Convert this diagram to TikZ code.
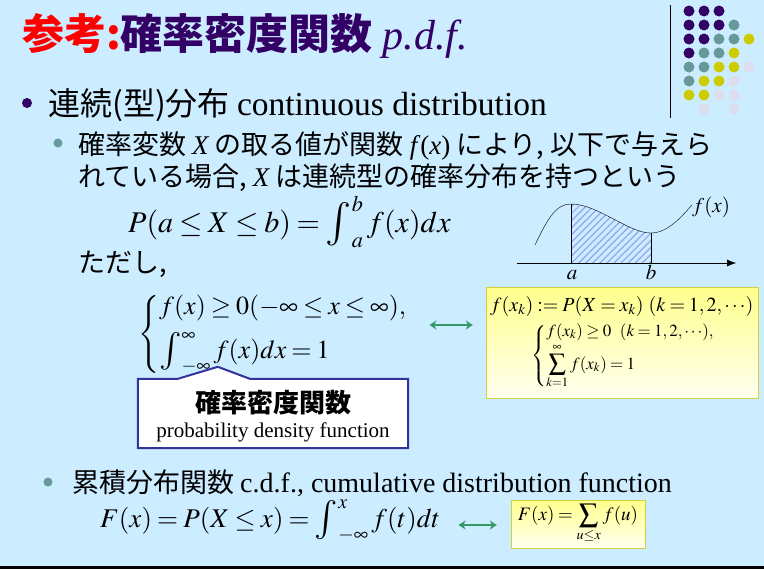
\documentclass[tikz,border=0pt]{standalone}
\usepackage{mathptmx}
\usepackage{fontspec}
\setmainfont{Liberation Serif}
\newfontfamily\jp{Noto Sans CJK JP}
\usetikzlibrary{positioning, arrows.meta, patterns.meta}
\definecolor{slidebg}{RGB}{204,236,255}
\definecolor{deeppurple}{RGB}{51,0,102}
\definecolor{dotteal}{RGB}{102,153,153}
\definecolor{dotyellow}{RGB}{204,204,0}
\definecolor{dotlilac}{RGB}{221,221,238}
\definecolor{arrowgreen}{RGB}{51,153,102}
\definecolor{hatchblue}{RGB}{145,165,240}
\definecolor{calloutblue}{RGB}{51,51,153}
\definecolor{boxedge}{RGB}{210,210,60}
\newcommand{\fsz}[1]{\fontsize{#1}{#1}\selectfont}
\newcommand{\mint}{\mathop{\vcenter{\hbox{\scalebox{1.45}{$\int$}}}}\nolimits}
\thickmuskip=3.5mu plus 2mu
\medmuskip=3mu plus 1mu minus 2mu
\tikzset{
  txt/.style={anchor=base west, inner sep=0pt},
  dot/.style={circle, fill=#1, inner sep=0pt, minimum size=11pt},
  yellowbox/.style={draw=boxedge, top color=yellow!45, bottom color=yellow!6, inner sep=0pt},
  twoway/.style={{Stealth[length=7pt,width=9pt]}-{Stealth[length=7pt,width=9pt]}, arrowgreen, line width=1.6pt},
  calloutline/.style={draw=calloutblue, line width=2pt, fill=white}
}

\begin{document}
\begin{tikzpicture}[x=1pt, y=-1pt]
  \useasboundingbox (0,0) rectangle (764,573);
  \fill[slidebg] (0,0) rectangle (764,573);
  \fill[white] (0,568) rectangle (764,573);
  \draw[line width=3pt] (0,567) -- (764,567);

  \draw (670,5) -- (670,118);
  \foreach \i/\j in {1/1,2/1,3/1,1/2,2/2,3/2,1/3,2/3,1/4}
    \node[dot=deeppurple] at (674+15*\i, -3+14*\j) {};
  \foreach \i/\j in {4/2,3/3,4/3,2/4,3/4,1/5,2/5,1/6}
    \node[dot=dotteal] at (674+15*\i, -3+14*\j) {};
  \foreach \i/\j in {5/3,4/4,3/5,4/5,2/6,3/6,1/7,2/7}
    \node[dot=dotyellow] at (674+15*\i, -3+14*\j) {};
  \foreach \i/\j in {5/5,4/6,3/7,4/7,2/8,4/8}
    \node[dot=dotlilac] at (674+15*\i, -3+14*\j) {};

  \node[txt, text=deeppurple, font=\jp\bfseries\fsz{42}] (title) at (22,49)
    {\textcolor{red}{参考:}確率密度関数 {\rmfamily\mdseries\itshape p.d.f.}};

  \node[circle, fill=deeppurple, inner sep=0pt, minimum size=10pt] (b1) at (27,103) {};
  \node[txt, font=\jp\fsz{32}] (contdist) at (48,115) {連続(型)分布 {\rmfamily\fsz{33.5}continuous distribution}};

  \node[circle, fill=dotteal, inner sep=0pt, minimum size=9pt] (b2) at (58,143) {};
  \node[txt, font=\jp\fsz{27}] (def1) at (78,154)
    {確率変数 {\rmfamily\itshape X} の取る値が関数 {\rmfamily\textit{f}(\textit{x})} により, 以下で与えら};
  \node[txt, font=\jp\fsz{27}] (def2) at (78,186)
    {れている場合, {\rmfamily\itshape X} は連続型の確率分布を持つという};

  \node[txt, font=\fsz{30}] (pab) at (128,232) {$P(a\le X\le b)=\mint_a^b f(x)dx$};
  \node[txt, font=\jp\fsz{27}] (tada) at (78,272) {ただし,};

  \coordinate (ax1) at (517,263);
  \coordinate (ax2) at (736,263);
  \coordinate (cs) at (535,245);
  \coordinate (ca) at (571,204);
  \coordinate (cb) at (651,233);
  \coordinate (ce) at (692,205);
  \fill[pattern={Lines[angle=45, distance=5pt, line width=1.2pt]}, pattern color=hatchblue]
    (ca |- ax1) -- (ca) .. controls (598,204) and (628,233) .. (cb) -- (cb |- ax1) -- cycle;
  \draw (cs) .. controls (548,218) and (556,204) .. (ca)
        .. controls (598,204) and (628,233) .. (cb)
        .. controls (668,233) and (682,216) .. (ce);
  \draw (ca) -- (ca |- ax1);
  \draw (cb) -- (cb |- ax1);
  \draw[-{Latex[length=9pt, width=7pt]}] (ax1) -- (ax2);
  \node[anchor=base, inner sep=0pt, font=\fsz{21}] (alab) at (572,279) {$a$};
  \node[anchor=base, inner sep=0pt, font=\fsz{21}] (blab) at (651,279) {$b$};
  \node[txt, font=\fsz{21}] (fxlab) at (692,212) {$f(x)$};

  \node[anchor=west, inner sep=0pt, font=\fsz{26}] (cond) at (138,334)
    {$\left\{\begin{array}{@{}l@{}}
      f(x)\ge 0(-\infty\le x\le\infty),\\[10pt]
      \mint_{-\infty}^{\infty} f(x)dx=1
    \end{array}\right.$};

  \node[minimum width=270pt, minimum height=69pt, inner sep=0pt] (pdfframe) at (273,413.5) {};
  \draw[calloutline] (pdfframe.north west) -- ([xshift=40pt]pdfframe.north west)
    -- ([xshift=80pt, yshift=12pt]pdfframe.north west) -- ([xshift=112pt]pdfframe.north west)
    -- (pdfframe.north east) -- (pdfframe.south east) -- (pdfframe.south west) -- cycle;
  \node[anchor=base, inner sep=0pt, font=\jp\bfseries\fsz{26}] (pdfjp) at (273,412) {確率密度関数};
  \node[anchor=base, inner sep=0pt, font=\fsz{21}] (pdfen) at (273,437) {probability density function};

  \node[yellowbox, minimum width=272pt, minimum height=111pt] (pmf) at (622,342.5) {};
  \node[txt, font=\fsz{20}] (pmfdef) at (490,311) {$f(x_k):=P(X=x_k)\ (k=1,2,\cdots)$};
  \node[anchor=west, inner sep=0pt, font=\fsz{17}] (pmfcond) at (531,356)
    {$\left\{\begin{array}{@{}l@{}}
      f(x_k)\ge 0\ \ (k=1,2,\cdots),\\[3pt]
      \displaystyle\sum_{k=1}^{\infty} f(x_k)=1
    \end{array}\right.$};
  \draw[twoway, shorten <=22pt, shorten >=13pt] ([yshift=9pt]cond.east) -- ([yshift=9pt]cond.east -| pmf.west);

  \node[circle, fill=dotteal, inner sep=0pt, minimum size=9pt] (b3) at (48,482) {};
  \node[txt, font=\jp\fsz{27}] (cdfhead) at (72,492) {累積分布関数 {\rmfamily\fsz{28}c.d.f., cumulative distribution function}};
  \node[txt, font=\fsz{27}] (cdf) at (100,527) {$F(x)=P(X\le x)=\mint_{-\infty}^{x} f(t)dt$};
  \node[yellowbox, minimum width=134pt, minimum height=48pt, font=\fsz{19}] (cdfbox) at (578,524)
    {$F(x)=\displaystyle\sum_{u\le x} f(u)$};
  \draw[twoway, shorten <=18pt, shorten >=14pt] ([yshift=2pt]cdf.base east) -- ([yshift=2pt]cdf.base east -| cdfbox.west);
\end{tikzpicture}
\end{document}
